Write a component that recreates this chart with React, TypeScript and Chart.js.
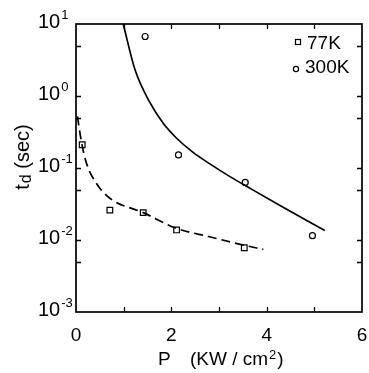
import React, { useEffect, useRef } from "react";
import { Chart, registerables } from "chart.js";

Chart.register(...registerables);

// ---- data ----
const p77 = [0.13, 0.71, 1.41, 2.11, 3.53];
const td77 = [0.21, 0.026, 0.024, 0.0138, 0.0078];
const p300 = [1.45, 2.15, 3.55, 4.96];
const td300 = [6.7, 0.152, 0.063, 0.0115];

const fit77P = [0.03, 0.12, 0.22, 0.43, 0.71, 1.41, 2.11, 2.8, 3.51, 3.93];
const fit77Td = [0.52, 0.22, 0.116, 0.061, 0.038, 0.024, 0.0145, 0.0111, 0.0085, 0.0074];
const fit300P = [0.99, 1.24, 1.55, 1.83, 2.1, 2.45, 2.8, 3.23, 3.7, 4.28, 5.22];
const fit300Td = [10, 2.29, 0.813, 0.417, 0.263, 0.166, 0.115, 0.0759, 0.0501, 0.0302, 0.0135];

const xLabelValues = [0, 2, 4, 6];
const xTickValues = [1, 2, 3, 4, 5];
const yDecadeExponents = [1, 0, -1, -2, -3];
const yTickValues = [5, 1, 0.5, 0.1, 0.05, 0.01, 0.005];
const legendLabels = ["77K", "300K"];

const FONT = "'Liberation Sans', Arial, sans-serif";

const toXY = (xs: number[], ys: number[]) => xs.map((v, i) => ({ x: v, y: ys[i] }));

const framePlugin = {
  id: "frame",
  afterDraw(chart: any) {
    const { ctx, chartArea, scales } = chart;
    const { left, right, top, bottom } = chartArea;
    const x = scales.x;
    const y = scales.y;
    ctx.save();
    ctx.strokeStyle = "#000";
    ctx.fillStyle = "#000";
    ctx.lineWidth = 1.7;
    ctx.strokeRect(left, top, right - left, bottom - top);

    // inward ticks
    ctx.lineWidth = 1.3;
    ctx.beginPath();
    xTickValues.forEach((v) => {
      const px = Math.round(x.getPixelForValue(v)) + 0.5;
      ctx.moveTo(px, bottom);
      ctx.lineTo(px, bottom - 5);
      ctx.moveTo(px, top);
      ctx.lineTo(px, top + 5);
    });
    yTickValues.forEach((v) => {
      const py = Math.round(y.getPixelForValue(v)) + 0.5;
      ctx.moveTo(left, py);
      ctx.lineTo(left + 5, py);
      ctx.moveTo(right, py);
      ctx.lineTo(right - 5, py);
    });
    ctx.stroke();

    // x tick labels
    ctx.font = `19px ${FONT}`;
    ctx.textAlign = "center";
    ctx.textBaseline = "middle";
    xLabelValues.forEach((v) => {
      ctx.fillText(String(v), x.getPixelForValue(v), bottom + 24);
    });

    // y tick labels 10^n
    yDecadeExponents.forEach((e) => {
      const py = y.getPixelForValue(Math.pow(10, e));
      ctx.font = `20px ${FONT}`;
      ctx.textAlign = "left";
      ctx.textBaseline = "middle";
      const bx = 38;
      ctx.fillText("10", bx, py - 2);
      const w = ctx.measureText("10").width;
      ctx.font = `13px ${FONT}`;
      ctx.textBaseline = "alphabetic";
      ctx.fillText(String(e), bx + w + 1, py - 5);
    });

    // x axis title
    ctx.textBaseline = "middle";
    ctx.textAlign = "left";
    ctx.font = `19px ${FONT}`;
    const ty = 360;
    ctx.fillText("P", 158, ty);
    let cx = 190;
    ctx.fillText("(KW / cm", cx, ty);
    cx += ctx.measureText("(KW / cm").width;
    ctx.font = `13px ${FONT}`;
    ctx.textBaseline = "alphabetic";
    ctx.fillText("2", cx + 1, ty - 1);
    cx += ctx.measureText("2").width + 2;
    ctx.font = `19px ${FONT}`;
    ctx.textBaseline = "middle";
    ctx.fillText(")", cx, ty);

    // y axis title  t_d (sec)
    ctx.save();
    ctx.translate(23, 157);
    ctx.rotate(-Math.PI / 2);
    ctx.font = `20px ${FONT}`;
    const wT = ctx.measureText("t").width;
    const wRest = ctx.measureText(" (sec)").width;
    ctx.font = `16px ${FONT}`;
    const wD = ctx.measureText("d").width;
    const total = wT + wD + wRest + 1;
    let ux = -total / 2;
    ctx.textBaseline = "middle";
    ctx.textAlign = "left";
    ctx.font = `20px ${FONT}`;
    ctx.fillText("t", ux, 0);
    ux += wT + 1;
    ctx.font = `16px ${FONT}`;
    ctx.fillText("d", ux, 4);
    ux += wD;
    ctx.font = `20px ${FONT}`;
    ctx.fillText(" (sec)", ux, 0);
    ctx.restore();

    // legend
    ctx.lineWidth = 1.2;
    ctx.strokeRect(295.5, 39.5, 5, 5);
    ctx.beginPath();
    ctx.arc(296, 69, 2.6, 0, Math.PI * 2);
    ctx.stroke();
    ctx.font = `19px ${FONT}`;
    ctx.textAlign = "left";
    ctx.textBaseline = "middle";
    ctx.fillText(legendLabels[0], 307, 44);
    ctx.fillText(legendLabels[1], 305, 68);

    ctx.restore();
  },
};

export default function App() {
  const ref = useRef<HTMLCanvasElement | null>(null);
  useEffect(() => {
    document.body.style.margin = "0";
    const canvas = ref.current;
    if (!canvas) return;
    const chart = new Chart(canvas, {
      type: "scatter",
      data: {
        datasets: [
          {
            label: "77K fit",
            data: toXY(fit77P, fit77Td),
            showLine: true,
            borderColor: "#000",
            borderWidth: 1.7,
            borderDash: [9, 5],
            pointRadius: 0,
            cubicInterpolationMode: "monotone",
            fill: false,
          } as any,
          {
            label: "300K fit",
            data: toXY(fit300P, fit300Td),
            showLine: true,
            borderColor: "#000",
            borderWidth: 1.7,
            pointRadius: 0,
            cubicInterpolationMode: "monotone",
            fill: false,
          } as any,
          {
            label: legendLabels[0],
            data: toXY(p77, td77),
            showLine: false,
            pointStyle: "rect",
            pointRadius: 4,
            pointBorderWidth: 1.2,
            pointBorderColor: "#000",
            pointBackgroundColor: "#fff",
          } as any,
          {
            label: legendLabels[1],
            data: toXY(p300, td300),
            showLine: false,
            pointStyle: "circle",
            pointRadius: 3,
            pointBorderWidth: 1.2,
            pointBorderColor: "#000",
            pointBackgroundColor: "#fff",
          } as any,
        ],
      },
      options: {
        animation: false,
        responsive: false,
        devicePixelRatio: 1,
        layout: { padding: { left: 76, right: 7, top: 24, bottom: 61 } },
        plugins: { legend: { display: false }, tooltip: { enabled: false } },
        scales: {
          x: { type: "linear", min: 0, max: 6, display: false },
          y: { type: "logarithmic", min: 0.001, max: 10, display: false },
        },
      },
      plugins: [framePlugin],
    });
    return () => chart.destroy();
  }, []);
  return (
    <div style={{ width: 369, height: 373, background: "#fff" }}>
      <canvas ref={ref} width={369} height={373} />
    </div>
  );
}
